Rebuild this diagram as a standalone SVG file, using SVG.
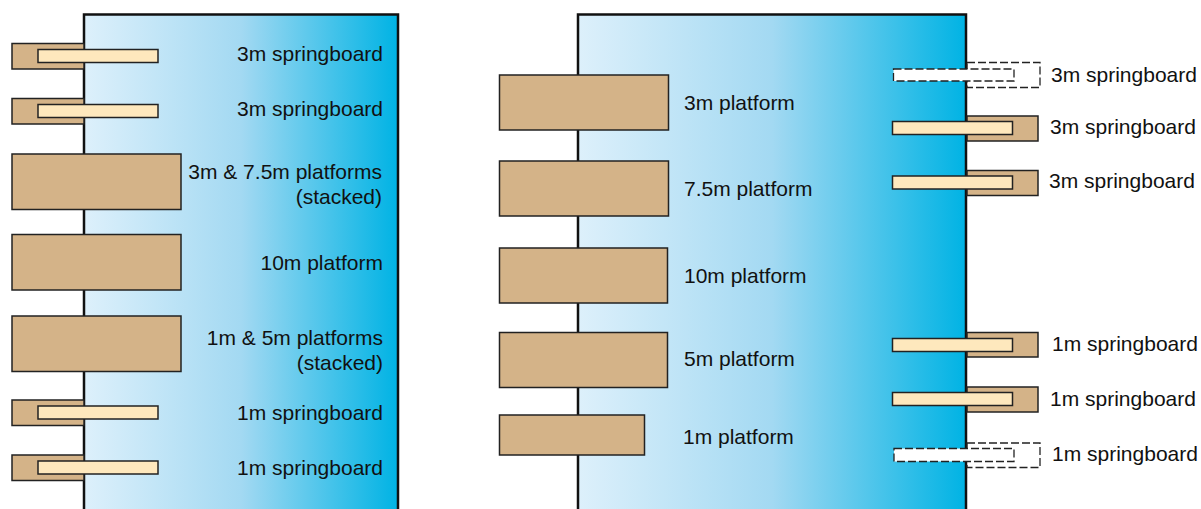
<svg xmlns="http://www.w3.org/2000/svg" width="1201" height="509" viewBox="0 0 1201 509">
<defs>
<linearGradient id="water" x1="0" y1="0" x2="1" y2="0">
<stop offset="0" stop-color="#ddf0fb"/>
<stop offset="0.5" stop-color="#a3d9f2"/>
<stop offset="1" stop-color="#00b3e4"/>
</linearGradient>
<style>
.pool{fill:url(#water);stroke:#111;stroke-width:2.5}
.base{fill:#d4b388;stroke:#222;stroke-width:1.5}
.board{fill:#fee8bd;stroke:#222;stroke-width:1.5}
.dash{fill:#fff;stroke:#222;stroke-width:1.3;stroke-dasharray:8 3}
.dashb{fill:none;stroke:#222;stroke-width:1.3;stroke-dasharray:8 3}
.plat{fill:#d4b388;stroke:#222;stroke-width:1.5}
text{font-family:"Liberation Sans",Arial,sans-serif;font-size:21px;fill:#111}
.r{text-anchor:end}
</style>
</defs>
<g id="pool-left"><rect class="pool" x="84" y="14.5" width="314" height="520"/></g>
<g id="pool-right"><rect class="pool" x="578" y="14.5" width="388" height="520"/></g>

<g id="L-sb3-1"><rect class="base" x="12" y="43.5" width="72" height="25.5"/><rect class="board" x="38" y="49.5" width="120" height="13"/><text class="r" x="383" y="61">3m springboard</text></g>
<g id="L-sb3-2"><rect class="base" x="12" y="98.5" width="72" height="25.5"/><rect class="board" x="38" y="104.5" width="120" height="13"/><text class="r" x="383" y="116">3m springboard</text></g>
<g id="L-p3-75"><rect class="plat" x="12" y="154" width="169" height="55.5"/><text class="r" x="382" y="179">3m &amp; 7.5m platforms</text><text class="r" x="382" y="204">(stacked)</text></g>
<g id="L-p10"><rect class="plat" x="12" y="234.5" width="169" height="55.5"/><text class="r" x="383" y="270">10m platform</text></g>
<g id="L-p1-5"><rect class="plat" x="12" y="316" width="169" height="55.5"/><text class="r" x="383" y="345">1m &amp; 5m platforms</text><text class="r" x="383" y="370">(stacked)</text></g>
<g id="L-sb1-1"><rect class="base" x="12" y="400" width="72" height="25.5"/><rect class="board" x="38" y="406" width="120" height="13"/><text class="r" x="383" y="420">1m springboard</text></g>
<g id="L-sb1-2"><rect class="base" x="12" y="455" width="72" height="25.5"/><rect class="board" x="38" y="461" width="120" height="13"/><text class="r" x="383" y="475">1m springboard</text></g>

<g id="R-p3"><rect class="plat" x="499.5" y="75" width="169" height="55"/><text x="684" y="110">3m platform</text></g>
<g id="R-p75"><rect class="plat" x="499.5" y="161" width="169" height="55"/><text x="684" y="196">7.5m platform</text></g>
<g id="R-p10"><rect class="plat" x="499.5" y="248" width="168" height="55"/><text x="684" y="283">10m platform</text></g>
<g id="R-p5"><rect class="plat" x="499.5" y="332.5" width="168" height="55"/><text x="684" y="366">5m platform</text></g>
<g id="R-p1"><rect class="plat" x="499.5" y="415" width="145" height="40"/><text x="683" y="444">1m platform</text></g>

<g id="R-sb3-dashed"><rect class="dashb" x="967" y="62.5" width="73" height="25"/><rect class="dash" x="893.5" y="69" width="120.5" height="12"/><text x="1051" y="82">3m springboard</text></g>
<g id="R-sb3-1"><rect class="base" x="967" y="116" width="71" height="25"/><rect class="board" x="892.5" y="121.5" width="120" height="13"/><text x="1050" y="134">3m springboard</text></g>
<g id="R-sb3-2"><rect class="base" x="967" y="170.5" width="71" height="25"/><rect class="board" x="892.5" y="176" width="120" height="13"/><text x="1049" y="188">3m springboard</text></g>
<g id="R-sb1-1"><rect class="base" x="967" y="332.5" width="71" height="24.5"/><rect class="board" x="892.5" y="338.5" width="120" height="13"/><text x="1052" y="351">1m springboard</text></g>
<g id="R-sb1-2"><rect class="base" x="967" y="387" width="71" height="25"/><rect class="board" x="892.5" y="392.5" width="120" height="13"/><text x="1050" y="406">1m springboard</text></g>
<g id="R-sb1-dashed"><rect class="dashb" x="967" y="443" width="73" height="24.5"/><rect class="dash" x="894" y="448.5" width="120" height="13"/><text x="1052" y="461">1m springboard</text></g>
</svg>
